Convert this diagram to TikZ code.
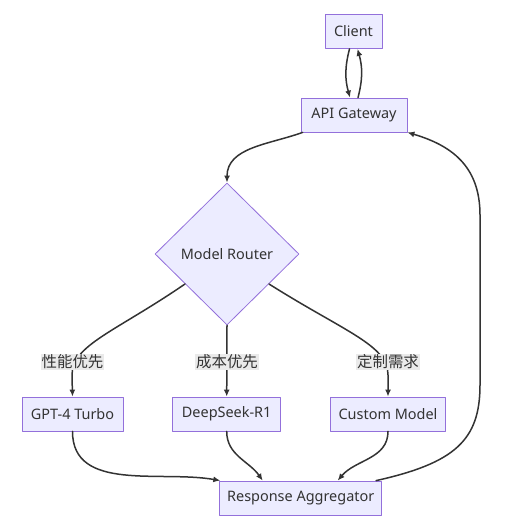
\documentclass[tikz,border=0pt]{standalone}
\usepackage{fontspec}
\setmainfont{Noto Sans}
\newfontfamily\cjk{Noto Sans CJK SC}
\usepackage{xcolor}
\usetikzlibrary{positioning,calc,shapes.geometric,arrows.meta}

\definecolor{nodefill}{HTML}{ECECFF}
\definecolor{nodeline}{HTML}{9370DB}
\definecolor{edgeline}{HTML}{333333}
\definecolor{lblfill}{HTML}{EAEAEA}

\begin{document}
\begin{tikzpicture}[x=1bp,y=1bp, line cap=round,line join=round,
		>={Latex[length=7bp,width=6bp]},
		box/.style={draw=nodeline, fill=nodefill, line width=0.8bp,
			minimum height=34bp, inner sep=0pt, text=edgeline,
			font=\fontsize{14.5}{16}\selectfont},
		decide/.style={diamond, draw=nodeline, fill=nodefill, line width=0.8bp,
			minimum width=144bp, minimum height=142bp, inner sep=0pt,
			text=edgeline, font=\fontsize{14.5}{16}\selectfont},
		flow/.style={->, draw=edgeline, line width=1.5bp},
		lbl/.style={fill=lblfill, inner sep=1bp, text=edgeline,
			font=\cjk\fontsize{15.5}{17}\selectfont}]
	
	% ---- canvas (pixel grid of the reference, y goes down)
	\useasboundingbox (0,0) rectangle (516,-524);
	
	% ---- nodes
	\node[box, minimum width=57bp]  (client) at (353.5,-31.5) {Client};
	\node[box, minimum width=106bp] (gateway) at (354,-115) {API Gateway};
	\node[decide] (router) at (227,-254) {Model Router};
	
	\node[box, minimum width=101bp] (gpt)    at (72.5,-414) {GPT-4 Turbo};
	\node[box, minimum width=108bp] (deep)   at (226.7,-414) {DeepSeek-R1};
	\node[box, minimum width=115bp] (custom) at (388,-414) {Custom Model};
	\node[box, minimum width=162bp] (agg)    at (300.7,-498) {Response Aggregator};
	
	% exits on the lower sides of the diamond
	\coordinate (rLeft)  at ($(router.west)!0.42!(router.south)$);
	\coordinate (rRight) at ($(router.east)!0.42!(router.south)$);
	
	% ---- client <-> gateway
	\draw[flow] ([xshift=-4bp]client.south) to[bend right=15] ([xshift=-4bp]gateway.north);
	\draw[flow] ([xshift=4bp]gateway.north) to[bend right=15] ([xshift=4bp]client.south);
	
	% ---- gateway -> router
	\draw[flow] ([xshift=2bp]gateway.south west) to[out=-160,in=90] (router.north);
	
	% ---- router -> models
	\draw[flow] (rLeft) .. controls (115,-332) and (72,-345) .. (72,-375) -- (gpt.north);
	\draw[flow] (router.south) -- (deep.north);
	\draw[flow] (rRight) .. controls (345,-332) and (388,-345) .. (388,-375) -- (custom.north);
	
	% ---- models -> aggregator
	\draw[flow] (gpt.south) to[out=-90,in=170] ([xshift=1bp]agg.north west);
	\draw[flow] (deep.south) to[out=-90,in=125] ([xshift=-38bp]agg.north);
	\draw[flow] (custom.south) to[out=-90,in=50] ([xshift=37bp]agg.north);
	
	% ---- aggregator -> gateway
	\draw[flow] ([xshift=-6bp]agg.north east)
	.. controls (455,-463) and (480,-440) .. (480,-385) -- (480,-215)
	.. controls (480,-165) and (450,-145) .. (gateway.south east);
	
	% ---- edge labels
	\node[lbl] (lPerf)   at (72.5,-362) {性能优先};
	\node[lbl] (lCost)   at (227,-362)  {成本优先};
	\node[lbl] (lCustom) at (388,-362)  {定制需求};
	
\end{tikzpicture}
\end{document}
